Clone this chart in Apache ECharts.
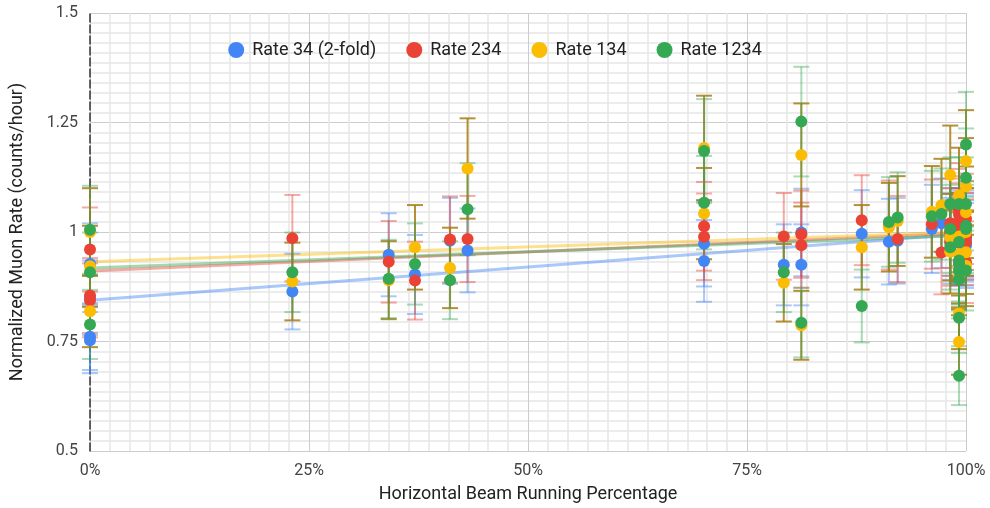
<!DOCTYPE html>
<html>
<head>
<meta charset="utf-8">
<script src="https://cdn.jsdelivr.net/npm/echarts@6/dist/echarts.min.js"></script>
<style>html,body{margin:0;padding:0;background:#fff}#c{width:990px;height:508px}</style>
</head>
<body>
<div id="c"></div>
<script>
// Horizontal beam running percentage of each run
const RUN_X = [0, 0, 0, 0, 23.1, 34.1, 37.1, 41.1, 43.1, 70.1, 70.1, 79.2, 81.2, 81.2, 88.1, 91.2, 92.2,
  96.1, 97.2, 98.2, 98.2, 98.2,
  99.2, 99.2, 99.2, 99.2, 99.2, 99.2, 99.2, 99.2,
  100, 100, 100, 100, 100, 100];
const RATE_34 = [0.927, 0.850, 0.761, 0.753, 0.864, 0.948, 0.903, 0.980, 0.958, 0.973, 0.934, 0.925, 0.999, 0.925, 0.996, 0.978, 0.980,
  1.007, 1.020, 1.000, 0.990, 0.980,
  1.000, 0.990, 0.985, 0.995, 0.980, 0.990, 0.975, 0.985,
  0.990, 1.000, 0.995, 0.985, 0.969, 0.975];
const RATE_234 = [0.960, null, 0.855, 0.844, 0.986, 0.932, 0.889, 0.983, 0.984, 1.013, 0.989, 0.990, 0.995, 0.970, 1.027, 1.016, 0.984,
  1.018, 0.953, 1.020, 1.000, 0.975,
  1.052, 1.040, 1.025, 1.010, 1.000, 0.990, 0.977, 0.985,
  1.030, 1.015, 1.000, 0.990, 0.977, 0.931];
const RATE_134 = [1.000, 0.922, 0.819, null, 0.887, 0.890, 0.965, 0.918, 1.145, 1.192, 1.042, 0.884, 1.176, 0.787, 0.965, 1.011, 1.025,
  1.046, 1.061, 1.130, 0.988, 0.955,
  1.084, 0.990, 0.950, 0.930, 0.920, 0.900, 0.814, 0.749,
  1.162, 1.104, 1.045, 1.000, 0.954, 0.923];
const RATE_1234 = [1.005, 0.908, 0.789, null, 0.908, 0.893, 0.927, 0.890, 1.052, 1.185, 1.067, 0.908, 1.252, 0.793, 0.831, 1.023, 1.033,
  1.036, 1.041, 1.064, 1.007, 0.965,
  1.064, 0.977, 0.935, 0.927, 0.912, 0.892, 0.804, 0.672,
  1.200, 1.124, 1.064, 1.014, 1.007, 0.912];
// Linear trendline values at 0% and 100%
const TREND_X = [0, 100];
const TREND_34 = [0.844, 0.996];
const TREND_234 = [0.911, 0.998];
const TREND_134 = [0.932, 1.000];
const TREND_1234 = [0.918, 0.992];
const ERROR_PCT = 0.10; // percentage error bars
const SERIES_NAMES = ['Rate 34 (2-fold)', 'Rate 234', 'Rate 134', 'Rate 1234'];
const X_TICKS = [0, 25, 50, 75, 100];
const Y_TICKS = [0.5, 0.75, 1, 1.25, 1.5];

const COLORS = ['#4285F4', '#EA4335', '#FBBC04', '#34A853'];
const ERR_COLORS = ['rgba(66,133,244,0.45)', 'rgba(234,67,53,0.45)', 'rgba(168,124,20,0.85)', 'rgba(52,168,83,0.42)'];
const VALUES = [RATE_34, RATE_234, RATE_134, RATE_1234];
const TRENDS = [TREND_34, TREND_234, TREND_134, TREND_1234];

const FONT = 'Roboto, Arial, sans-serif';
const series = [];
// trendlines
TRENDS.forEach((t, i) => {
  series.push({
    type: 'line', silent: true, symbol: 'none', z: 1,
    data: TREND_X.map((x, k) => [x, t[k]]),
    lineStyle: { color: COLORS[i], width: 3, opacity: 0.45 },
    animation: false
  });
});
// error bars
VALUES.forEach((vals, i) => {
  const d = [];
  vals.forEach((v, k) => { if (v != null) d.push([RUN_X[k], v * (1 - ERROR_PCT), v * (1 + ERROR_PCT)]); });
  series.push({
    type: 'custom', silent: true, z: 2, clip: false,
    data: d,
    encode: { x: 0, y: [1, 2] },
    renderItem: function (params, api) {
      const x = api.value(0);
      const lo = api.coord([x, api.value(1)]);
      const hi = api.coord([x, api.value(2)]);
      const hw = 8;
      const st = { stroke: ERR_COLORS[i], lineWidth: 2, fill: null };
      return {
        type: 'group',
        children: [
          { type: 'line', shape: { x1: lo[0], y1: lo[1], x2: hi[0], y2: hi[1] }, style: st },
          { type: 'line', shape: { x1: lo[0] - hw, y1: lo[1], x2: lo[0] + hw, y2: lo[1] }, style: st },
          { type: 'line', shape: { x1: hi[0] - hw, y1: hi[1], x2: hi[0] + hw, y2: hi[1] }, style: st }
        ]
      };
    },
    animation: false
  });
});
// points
VALUES.forEach((vals, i) => {
  const d = [];
  vals.forEach((v, k) => { if (v != null) d.push([RUN_X[k], v]); });
  series.push({
    name: SERIES_NAMES[i], type: 'scatter', z: 3,
    symbol: 'circle', symbolSize: 12,
    itemStyle: { color: COLORS[i], opacity: 1 },
    data: d,
    animation: false
  });
});

const chart = echarts.init(document.getElementById('c'), null, { renderer: 'canvas' });
chart.setOption({
  animation: false,
  backgroundColor: '#ffffff',
  color: COLORS,
  legend: {
    data: SERIES_NAMES.map(n => ({ name: n, icon: 'circle' })),
    top: 36, left: 'center',
    itemWidth: 16, itemHeight: 16, itemGap: 30,
    textStyle: { fontFamily: FONT, fontSize: 18, color: '#222', padding: [0, 0, 0, 3] }
  },
  grid: { left: 90, right: 24, top: 13, bottom: 55, containLabel: false },
  xAxis: {
    type: 'value', min: X_TICKS[0], max: X_TICKS[X_TICKS.length - 1], interval: 25,
    name: 'Horizontal Beam Running Percentage', nameLocation: 'middle', nameGap: 34,
    nameTextStyle: { fontFamily: FONT, fontSize: 18, color: '#222' },
    axisLine: { show: false }, axisTick: { show: false },
    axisLabel: { formatter: '{value}%', margin: 12, fontFamily: FONT, fontSize: 16, color: '#444' },
    splitLine: { show: true, lineStyle: { color: '#cccccc', width: 1 } },
    minorTick: { show: false, splitNumber: 11 },
    minorSplitLine: { show: true, lineStyle: { color: '#e6e6e6', width: 1.5 } }
  },
  yAxis: {
    type: 'value', min: Y_TICKS[0], max: Y_TICKS[Y_TICKS.length - 1], interval: 0.25,
    name: 'Normalized Muon Rate (counts/hour)', nameLocation: 'middle', nameGap: 64,
    nameTextStyle: { fontFamily: FONT, fontSize: 18, color: '#222' },
    axisLine: { show: true, onZero: false, lineStyle: { color: '#333', width: 1.5, type: [8, 3] } },
    axisTick: { show: false },
    axisLabel: { margin: 12, fontFamily: FONT, fontSize: 16, color: '#444' },
    splitLine: { show: true, lineStyle: { color: '#cccccc', width: 1 } },
    minorTick: { show: false, splitNumber: 11 },
    minorSplitLine: { show: true, lineStyle: { color: '#e6e6e6', width: 1.5 } }
  },
  series: series
});
</script>
</body>
</html>
